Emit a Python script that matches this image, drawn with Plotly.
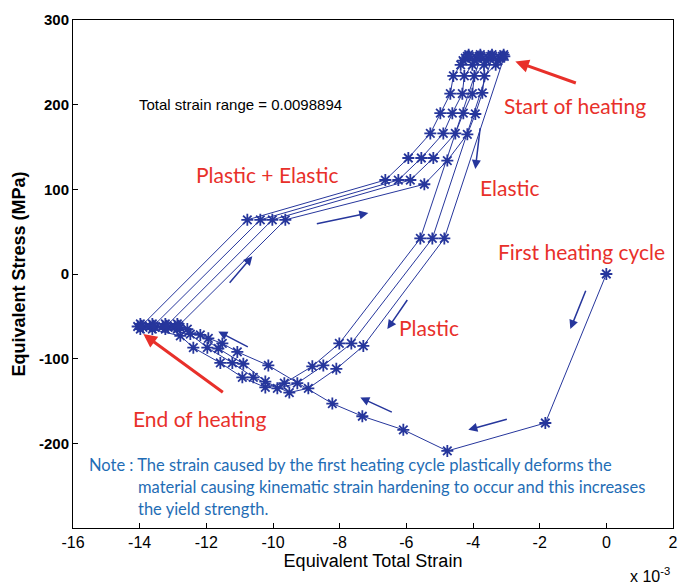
import plotly.graph_objects as go

# ---- data (strain in 1e-3, stress in MPa) ----
first_x = [0, -1.83, -4.77, -6.09, -7.32, -8.22, -10.14, -11.07, -11.52, -11.94, -12.57]
first_y = [0, -176, -209, -184, -168, -153, -108, -92, -82, -76, -65]

end1_x = [-12.79, -12.87, -12.95, -12.87, -12.83]
end2_x = [-13.15, -13.23, -13.31, -13.23, -13.19]
end3_x = [-13.54, -13.62, -13.70, -13.62, -13.58]
end4_x = [-13.90, -13.98, -14.06, -13.98, -13.94]
end_y = [-63, -65, -62, -59, -61]

up0_x = [-9.63, -5.46, -4.77, -4.17, -3.93, -3.72, -3.66]
up0_y = [64, 106, 134, 165, 189, 214, 234]
up1_x = [-10.02, -5.88, -5.19, -4.53, -4.29, -4.02, -3.96]
up2_x = [-10.38, -6.24, -5.55, -4.89, -4.62, -4.32, -4.26]
up3_x = [-10.77, -6.63, -5.94, -5.28, -4.98, -4.68, -4.59]
up_y = [64, 111, 137, 166, 190, 213, 234]

top0_x = [-3.32, -3.25, -3.18, -3.12, -3.08, -3.06]
top1_x = [-3.67, -3.60, -3.53, -3.47, -3.43, -3.41]
top2_x = [-4.02, -3.95, -3.88, -3.82, -3.78, -3.76]
top3_x = [-4.37, -4.30, -4.23, -4.17, -4.13, -4.11]
top_y = [247, 252, 255, 257, 259, 257]

d0_x = [-4.86, -7.29, -8.10, -8.94, -9.51, -10.23, -10.89, -11.64, -12.18]
d0_y = [42, -85, -112, -135, -140, -127, -106, -88, -72]
d1_x = [-5.22, -7.65, -8.49, -9.27, -9.87, -10.59, -11.22, -11.97, -12.48]
d1_y = [42, -82, -108, -129, -135, -122, -105, -87, -71]
d2_x = [-5.58, -8.01, -8.82, -9.66, -10.23, -10.92, -11.58, -12.39, -12.78]
d2_y = [42, -82, -109, -129, -134, -122, -105, -87, -73]

x_ticks = [-16, -14, -12, -10, -8, -6, -4, -2, 0, 2]
y_ticks = [-200, -100, 0, 100, 200, 300]

# ---- assemble path ----
path_x = (first_x + end1_x + up0_x + top0_x + d0_x + end2_x + up1_x + top1_x + d1_x
          + end3_x + up2_x + top2_x + d2_x + end4_x + up3_x + top3_x)
path_y = (first_y + end_y + up0_y + top_y + d0_y + end_y + up_y + top_y + d1_y
          + end_y + up_y + top_y + d2_y + end_y + up_y + top_y)

BLUE = "#26369c"
RED = "#e8302a"
NOTE = "#1f6db5"

fig = go.Figure()
fig.add_trace(go.Scatter(
    x=path_x, y=path_y, mode="lines+markers",
    line=dict(color=BLUE, width=1),
    marker=dict(symbol="asterisk-open", size=10, color=BLUE,
                line=dict(color=BLUE, width=1.8)),
    showlegend=False, hoverinfo="skip"))

ann = []
def txt(x, y, s, color, size, family="Lato", xanchor="left"):
    ann.append(dict(x=x, y=y, xref="x", yref="y", text=s, showarrow=False,
                    xanchor=xanchor, yanchor="middle",
                    font=dict(family=family, size=size, color=color)))

txt(-14.07, 200, "Total strain range = 0.0098894", "black", 15, family="Liberation Sans")
txt(-3.12, 199, "Start of heating", RED, 21)
txt(-3.84, 102, "Elastic", RED, 21)
txt(-12.36, 118, "Plastic + Elastic", RED, 21)
txt(-3.30, 27, "First heating cycle", RED, 21)
txt(-6.27, -63, "Plastic", RED, 21)
txt(-14.25, -171, "End of heating", RED, 21)
txt(-15.57, -226, "Note : The strain caused by the first heating cycle plastically deforms the", NOTE, 16.5)
txt(-14.10, -252, "material causing kinematic strain hardening to occur and this increases", NOTE, 16.5)
txt(-14.10, -278, "the yield strength.", NOTE, 16.5)

def arrow(x0, y0, x1, y1, color, width, size=1.0):
    ann.append(dict(x=x1, y=y1, ax=x0, ay=y0, xref="x", yref="y", axref="x", ayref="y",
                    text="", showarrow=True, arrowhead=2, arrowsize=size,
                    arrowwidth=width, arrowcolor=color))

arrow(-0.87, 225, -2.73, 251, RED, 3, 0.9)
arrow(-11.46, -141, -13.89, -71, RED, 3, 0.9)
arrow(-8.73, 59, -7.14, 72, BLUE, 1.5, 1.2)
arrow(-11.34, -12, -10.62, 21, BLUE, 1.5, 1.2)
arrow(-3.78, 174, -3.93, 124, BLUE, 1.5, 1.2)
arrow(-5.94, -29, -6.57, -65, BLUE, 1.5, 1.2)
arrow(-0.60, -18, -1.08, -65, BLUE, 1.5, 1.2)
arrow(-2.94, -171, -4.14, -184, BLUE, 1.5, 1.2)
arrow(-6.39, -164, -7.38, -146, BLUE, 1.5, 1.2)
arrow(-10.71, -87, -11.64, -68, BLUE, 1.5, 1.2)

ann.append(dict(x=0.925, y=-0.092, xref="paper", yref="paper", showarrow=False,
                text="x 10<sup>-3</sup>", xanchor="left", yanchor="middle",
                font=dict(family="Liberation Sans", size=16, color="black")))

fig.update_layout(
    width=678, height=584,
    margin=dict(l=73, r=5, t=20, b=56),
    paper_bgcolor="white", plot_bgcolor="white",
    annotations=ann,
    xaxis=dict(range=[-16, 2], tickvals=x_ticks, ticktext=[str(v) for v in x_ticks],
               ticks="inside", ticklen=5, tickcolor="black", showgrid=False, zeroline=False,
               showline=True, linecolor="black", linewidth=1, mirror=True, automargin=False,
               tickfont=dict(family="Liberation Sans", size=16, color="black"),
               title=dict(text="Equivalent Total Strain", standoff=4,
                          font=dict(family="Liberation Sans", size=18, color="black"))),
    yaxis=dict(range=[-300, 300], tickvals=y_ticks, ticktext=[str(v) for v in y_ticks],
               ticks="inside", ticklen=5, tickcolor="black", showgrid=False, zeroline=False,
               showline=True, linecolor="black", linewidth=1, mirror=True, automargin=False,
               tickfont=dict(family="Liberation Sans", size=15, color="black", weight="bold"),
               title=dict(text="Equivalent Stress (MPa)", standoff=8,
                          font=dict(family="Liberation Sans", size=18, color="black", weight="bold"))),
)

fig.write_html("out.html")
